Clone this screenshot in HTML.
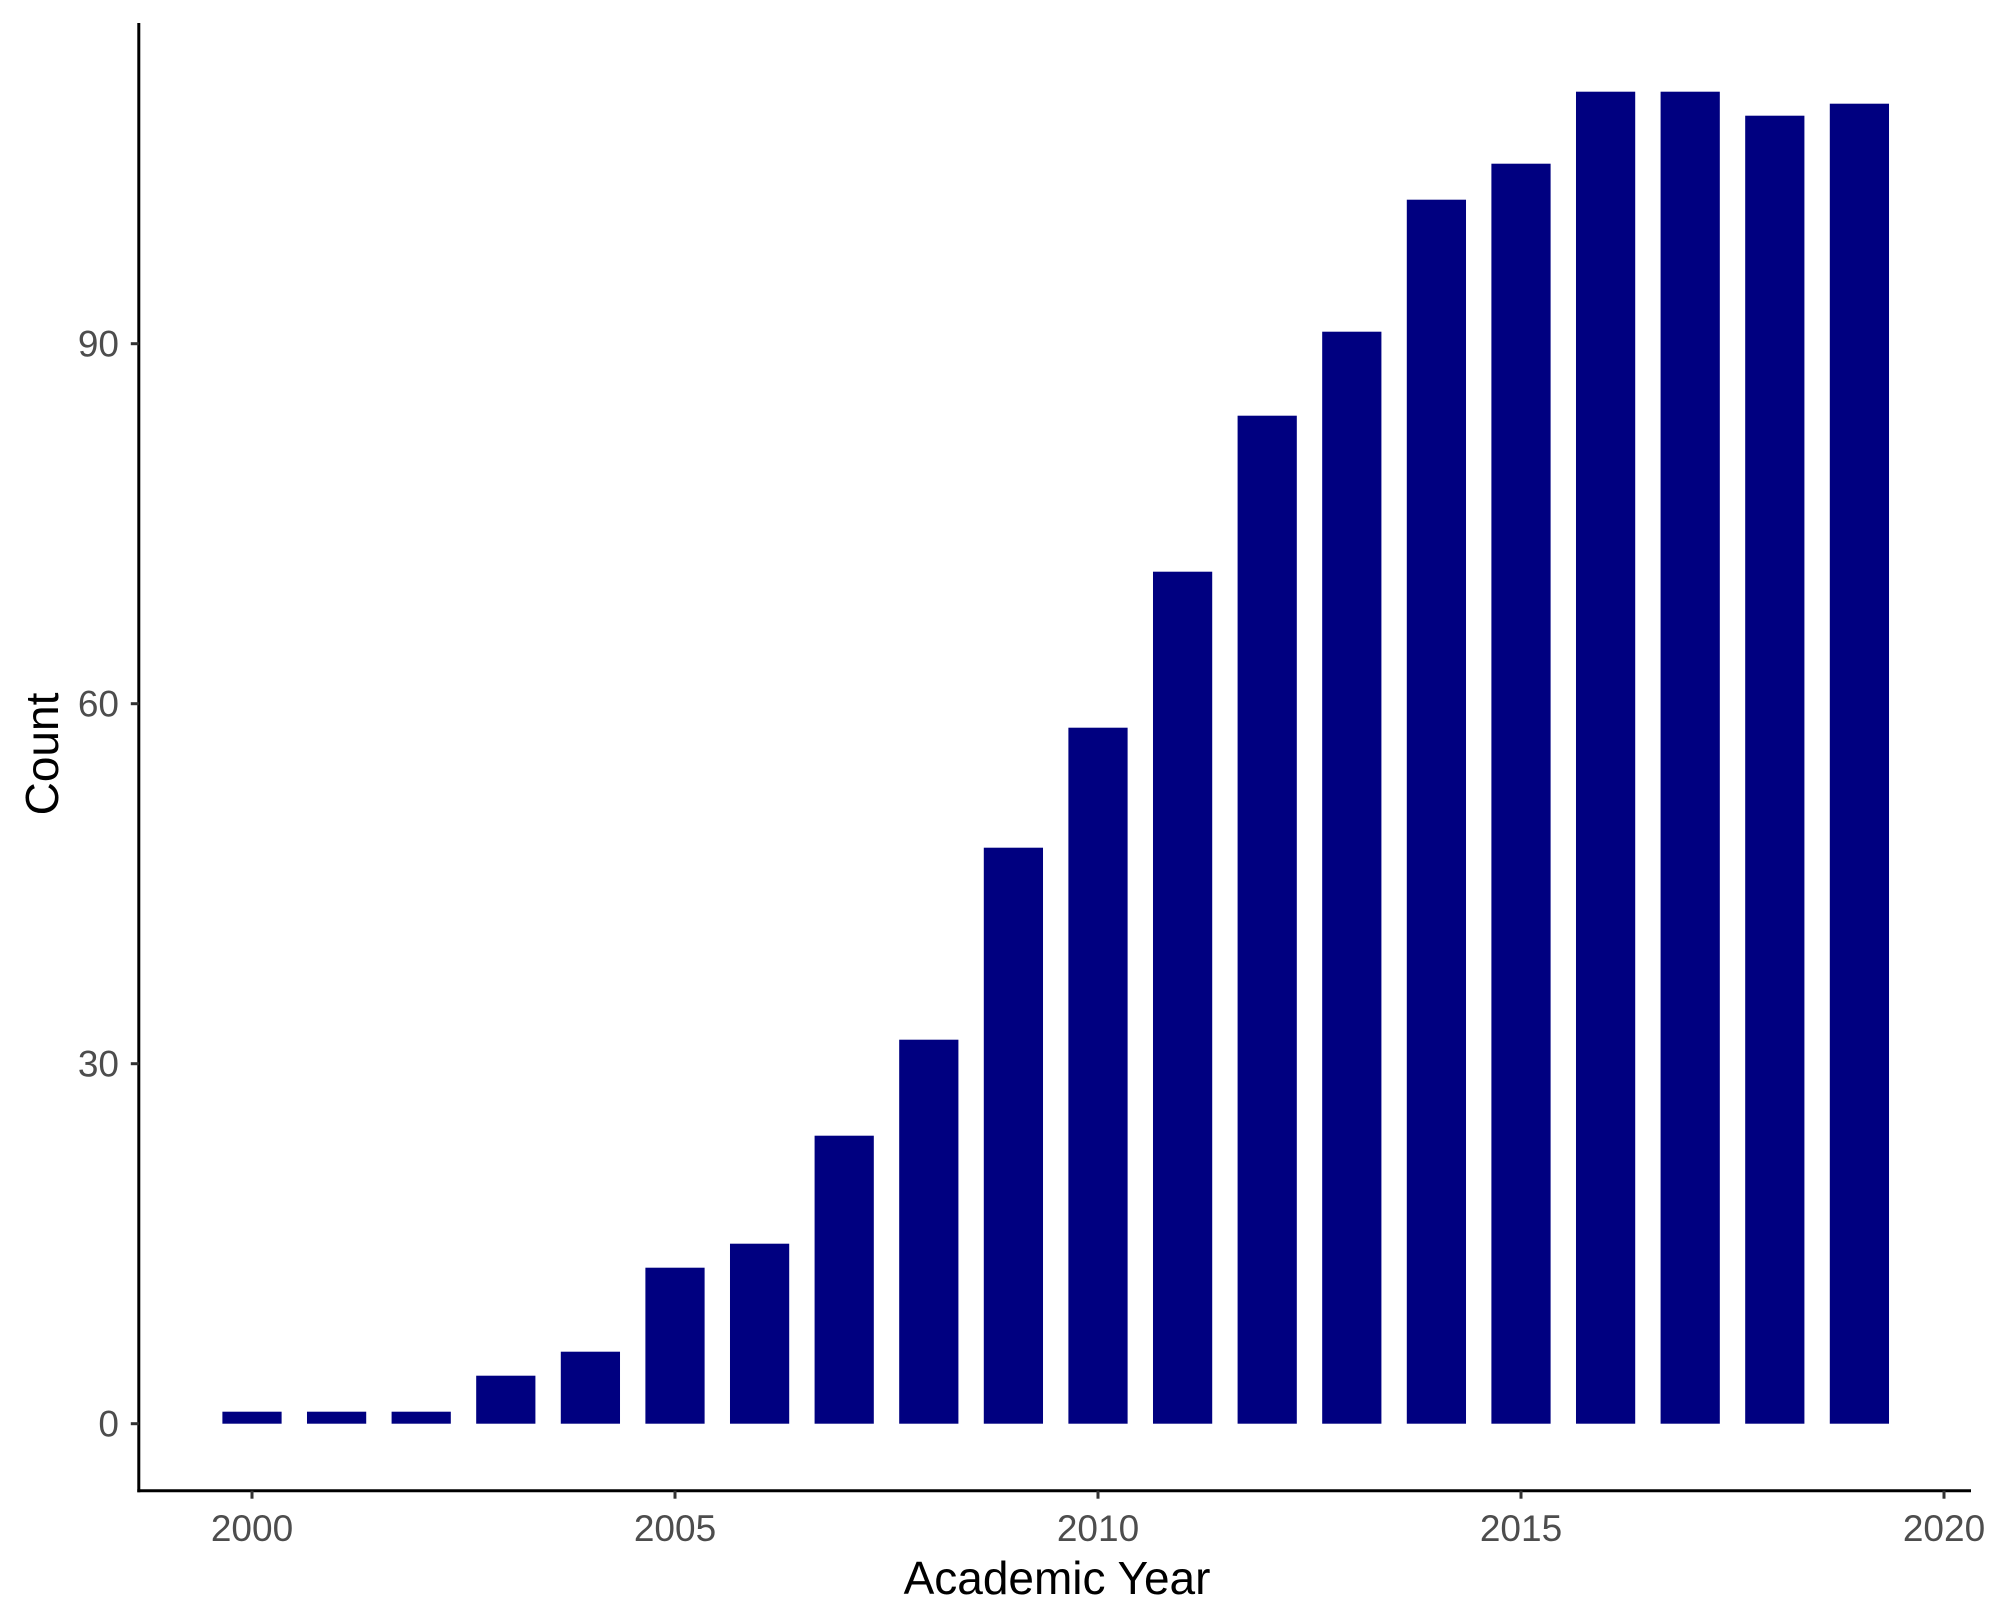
<!DOCTYPE html>
<html><head><meta charset="utf-8"><style>
html,body{margin:0;padding:0;background:#fff;}
svg{display:block;font-family:"Liberation Sans",sans-serif;}
</style></head><body>
<svg id="chart" width="1996" height="1624" viewBox="0 0 1996 1624" xmlns="http://www.w3.org/2000/svg">
<rect width="1996" height="1624" fill="#fff"/>
<g id="bars"></g>
<g id="axes"></g>
<text x="1057" y="1594" font-size="46" text-anchor="middle" fill="#000">Academic Year</text>
<text transform="translate(58,754) rotate(-90)" font-size="46" text-anchor="middle" fill="#000">Count</text>
</svg>
<script>
const years = [2000,2001,2002,2003,2004,2005,2006,2007,2008,2009,2010,2011,2012,2013,2014,2015,2016,2017,2018,2019];
const counts = [1,1,1,4,6,13,15,24,32,48,58,71,84,91,102,105,111,111,109,110];
const xTicks = [2000,2005,2010,2015,2020];
const yTicks = [0,30,60,90];

const NS="http://www.w3.org/2000/svg";
const x0=252, pxPerYear=84.6, y0=1423.7, pxPerUnit=12.0;
function xs(v){return x0+(v-2000)*pxPerYear;}
function ys(v){return y0-v*pxPerUnit;}
const bw=0.7*pxPerYear;
const bars=document.getElementById('bars');
years.forEach((yr,i)=>{
  const r=document.createElementNS(NS,'rect');
  r.setAttribute('x',xs(yr)-bw/2);
  r.setAttribute('y',ys(counts[i]));
  r.setAttribute('width',bw);
  r.setAttribute('height',ys(0)-ys(counts[i]));
  r.setAttribute('fill','#000080');
  
  
  bars.appendChild(r);
});
const axes=document.getElementById('axes');
function line(x1,y1,x2,y2,c,w,name){
  const l=document.createElementNS(NS,'line');
  l.setAttribute('x1',x1);l.setAttribute('y1',y1);l.setAttribute('x2',x2);l.setAttribute('y2',y2);
  l.setAttribute('stroke',c);l.setAttribute('stroke-width',w);
  
  
  axes.appendChild(l);
}
function text(x,y,s,anchor,name){
  const t=document.createElementNS(NS,'text');
  t.setAttribute('x',x);t.setAttribute('y',y);t.setAttribute('font-size','37');
  t.setAttribute('fill','#4d4d4d');t.setAttribute('text-anchor',anchor);
  t.textContent=s;
  
  
  axes.appendChild(t);
}
const axL=138.8, axB=1490.7;
line(axL,23,axL,axB+1.5,'#000',3,'y-axis-line');
line(axL-1.5,axB,1971,axB,'#000',3,'x-axis-line');
yTicks.forEach(v=>{
  line(axL-8,ys(v),axL,ys(v),'#333',3,'y-tick-'+v);
  text(119,ys(v)+13,String(v),'end','y-tick-label-'+v);
});
xTicks.forEach(v=>{
  line(xs(v),axB,xs(v),axB+8,'#333',3,'x-tick-'+v);
  text(xs(v),1541,String(v),'middle','x-tick-label-'+v);
});
</script>
</body></html>
